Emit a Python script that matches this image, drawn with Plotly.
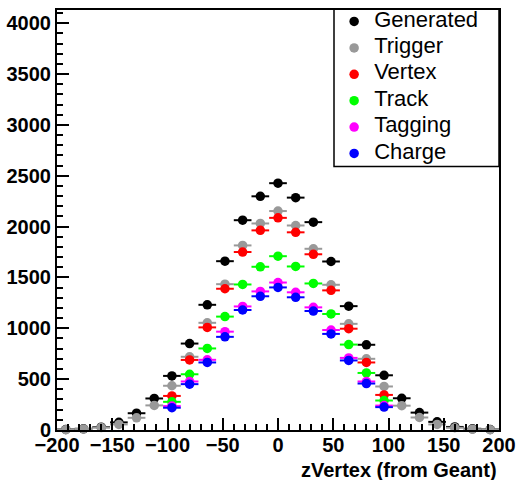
import plotly.graph_objects as go

# ---- data ----
zvertex = [-192, -176, -160, -144, -128, -112, -96, -80, -64, -48, -32, -16, 0,
           16, 32, 48, 64, 80, 96, 112, 128, 144, 160, 176, 192]
bin_half_width = [8] * len(zvertex)

generated = [5, 12, 28, 75, 165, 310, 532, 850, 1231, 1660, 2063, 2298, 2427,
             2285, 2044, 1657, 1218, 838, 538, 312, 171, 80, 30, 12, 5]
trigger = [3, 10, 24, 55, 120, 242, 435, 720, 1054, 1434, 1815, 2031, 2153,
           2011, 1782, 1428, 1044, 700, 428, 239, 123, 55, 22, 8, 3]
vertex = [None, None, None, None, None, None, 335, 689, 1009, 1389, 1750, 1963, 2086,
          1944, 1728, 1373, 996, 664, 345, None, None, None, None, None, None]
track = [None, None, None, None, None, None, 277, 548, 802, 1115, 1431, 1605, 1709,
         1608, 1441, 1141, 840, 561, 290, None, None, None, None, None, None]
tagging = [None, None, None, None, None, None, 235, 477, 690, 967, 1215, 1363, 1450,
           1354, 1206, 983, 709, 477, 240, None, None, None, None, None, None]
charge = [None, None, None, None, None, None, 219, 451, 664, 916, 1180, 1315, 1402,
          1305, 1170, 945, 684, 457, 225, None, None, None, None, None, None]

series_names = ["Generated", "Trigger", "Vertex", "Track", "Tagging", "Charge"]
series_values = [generated, trigger, vertex, track, tagging, charge]
series_colors = ["#000000", "#999999", "#ff0000", "#00ff00", "#ff00ff", "#0000ff"]

x_ticks = [-200, -150, -100, -50, 0, 50, 100, 150, 200]
y_ticks = [0, 500, 1000, 1500, 2000, 2500, 3000, 3500, 4000]

FONT = "Liberation Sans"

fig = go.Figure()
for name, vals, col in zip(series_names, series_values, series_colors):
    fig.add_trace(go.Scatter(
        x=zvertex, y=vals, mode="markers",
        name=f"<span style='font-size:22px;baseline-shift:2px'>{name}</span>",
        marker=dict(symbol="circle", size=9.5, color=col, line=dict(width=0)),
        error_x=dict(type="data", array=bin_half_width, symmetric=True,
                     color=col, thickness=2, width=0),
        cliponaxis=False,
    ))

axis_common = dict(
    showgrid=False, zeroline=False, showline=True, linecolor="black",
    linewidth=2, mirror=True, ticks="inside", tickcolor="black",
    tickwidth=1.5, ticklen=12,
    tickfont=dict(family=FONT, size=20, color="black", weight="bold"),
)

fig.update_layout(
    width=518, height=480,
    margin=dict(l=57, r=19, t=3, b=50),
    paper_bgcolor="white", plot_bgcolor="white",
    showlegend=True,
    xaxis=dict(range=[-200, 200], tickmode="array", tickvals=x_ticks,
               ticklabelstandoff=-4,
               minor=dict(ticks="inside", dtick=10, ticklen=6, tickwidth=1.5,
                          tickcolor="black", showgrid=False),
               **axis_common),
    yaxis=dict(range=[0, 4130], tickmode="array", tickvals=y_ticks,
               minor=dict(ticks="inside", dtick=100, ticklen=6, tickwidth=1.5,
                          tickcolor="black", showgrid=False),
               **axis_common),
    legend=dict(
        x=0.627, xanchor="left", y=1.016, yanchor="top",
        bgcolor="rgba(0,0,0,0)", borderwidth=0,
        font=dict(family=FONT, size=18, color="black"),
        traceorder="normal", itemclick=False,
    ),
    shapes=[dict(type="rect", xref="paper", yref="paper",
                 x0=0.6267, x1=1.0, y0=0.6276, y1=1.0023,
                 line=dict(color="black", width=1.5), layer="above")],
    annotations=[dict(text="zVertex (from Geant)", xref="paper", yref="paper",
                      x=1.0, xanchor="right", y=-0.095, yanchor="middle",
                      showarrow=False,
                      font=dict(family=FONT, size=20, color="black", weight="bold"))],
)

fig.write_html("out.html")
